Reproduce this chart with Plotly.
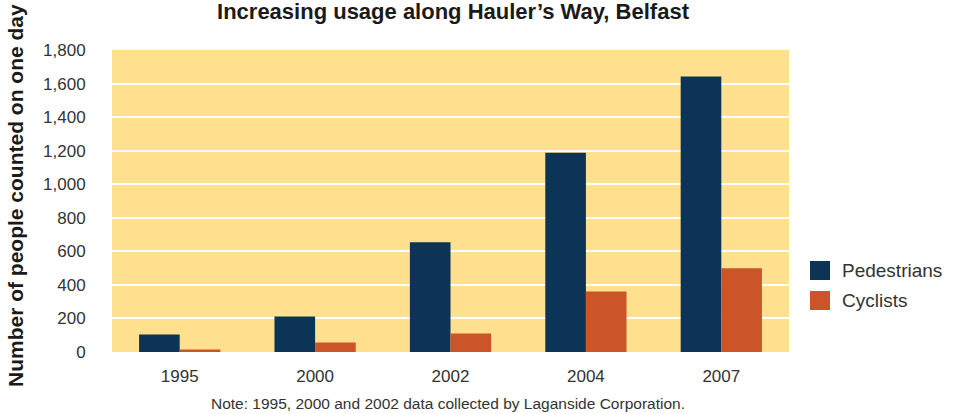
import plotly.graph_objects as go

years = ["1995", "2000", "2002", "2004", "2007"]
pedestrians = [104, 212, 654, 1188, 1642]
cyclists = [15, 57, 110, 361, 499]
series_names = ["Pedestrians", "Cyclists"]
colors = ["#0B3456", "#CB5428"]
y_ticks = [0, 200, 400, 600, 800, 1000, 1200, 1400, 1600, 1800]

FONT = "Liberation Sans"

fig = go.Figure()
for name, vals, col in zip(series_names, [pedestrians, cyclists], colors):
    fig.add_trace(go.Bar(x=years, y=vals, name=name, marker=dict(color=col, line=dict(width=0)),
                         showlegend=False))

L, R, T, B = 112, 165, 50, 62
W, H = 954, 414
pw, ph = W - L - R, H - T - B

def px_x(x):
    return (x - L) / pw

def px_y(y):
    return (H - B - y) / ph

shapes = []
annotations = []
legend_rows = [(261, 280), (291, 310)]
for (y0, y1), name, col in zip(legend_rows, series_names, colors):
    shapes.append(dict(type="rect", xref="paper", yref="paper",
                       x0=px_x(810), x1=px_x(830), y0=px_y(y1), y1=px_y(y0),
                       fillcolor=col, line=dict(width=0)))
    annotations.append(dict(text=name, xref="paper", yref="paper", x=px_x(840),
                            y=px_y((y0 + y1) / 2), xanchor="left", yanchor="middle",
                            showarrow=False, font=dict(family=FONT, size=19, color="#333333")))

annotations.append(dict(text="Number of people counted on one day", textangle=-90,
                        xref="paper", yref="paper", x=px_x(15), y=px_y(196),
                        xanchor="center", yanchor="middle", showarrow=False,
                        font=dict(family=FONT, size=21, color="#1a1a1a", weight="bold")))
annotations.append(dict(text="Note: 1995, 2000 and 2002 data collected by Laganside Corporation.",
                        xref="paper", yref="paper", x=px_x(448), y=px_y(403),
                        xanchor="center", yanchor="middle", showarrow=False,
                        font=dict(family=FONT, size=15.5, color="#333333")))

fig.update_layout(
    width=W, height=H,
    margin=dict(l=L, r=R, t=T, b=B),
    paper_bgcolor="white",
    plot_bgcolor="#FEE08F",
    barmode="group", bargap=0.4, bargroupgap=0,
    title=dict(text="Increasing usage along Hauler’s Way, Belfast",
               x=px_x(453), xanchor="center", xref="paper",
               y=1 - 11 / H, yanchor="middle", yref="container",
               font=dict(family=FONT, size=22, color="#1a1a1a", weight="bold")),
    xaxis=dict(type="category", range=[-0.5, 4.5], showgrid=False, zeroline=False,
               ticks="outside", ticklen=9, tickcolor="rgba(0,0,0,0)",
               tickfont=dict(family=FONT, size=17, color="#333333"), showline=False),
    yaxis=dict(range=[0, 1800], tickvals=y_ticks, tickformat=",",
               showgrid=True, gridcolor="white", gridwidth=2, zeroline=False,
               ticks="outside", ticklen=22, tickcolor="rgba(0,0,0,0)",
               tickfont=dict(family=FONT, size=17, color="#333333"), showline=False),
    shapes=shapes, annotations=annotations,
)

fig.write_html("out.html")
